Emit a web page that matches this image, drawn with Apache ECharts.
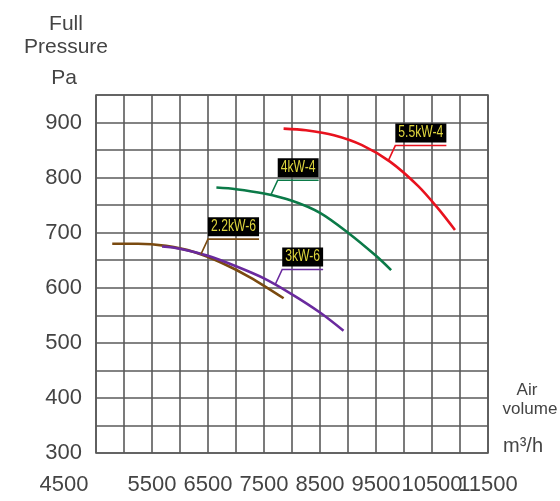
<!DOCTYPE html>
<html><head><meta charset="utf-8">
<script src="https://cdn.jsdelivr.net/npm/echarts@6/dist/echarts.min.js"></script>
<style>html,body{margin:0;padding:0;background:#fff}#c{width:560px;height:501px}</style>
</head><body><div id="c"></div>
<script>
// Axis ranges / ticks
const xMin = 4500, xMax = 11500, xStep = 500;
const yMin = 300, yMax = 950, yStep = 50;

// Curves (air volume m3/h -> full pressure Pa)
const brownX  = [4790, 5250, 5750, 6250, 6750, 7250, 7850];
const brownY  = [680, 680, 676, 665, 645, 619, 581];
const purpleX = [5680, 6000, 6500, 7000, 7500, 8000, 8500, 8920];
const purpleY = [675, 671, 658, 639, 617, 588, 555, 522];
const greenX  = [6650, 7000, 7500, 8000, 8500, 9000, 9500, 9770];
const greenY  = [782, 779, 771, 758, 736, 700, 658, 632];
const redX    = [7850, 8250, 8750, 9250, 9750, 10250, 10600, 10910];
const redY    = [889, 886, 877, 859, 829, 785, 745, 705];

// Curve labels and the point on the curve where each leader line starts
const curveNames   = ['2.2kW-6', '3kW-6', '4kW-4', '5.5kW-4'];
const labelAnchorX = [6375, 7700, 7620, 9720];
const labelAnchorY = [661, 606, 768, 831];

const curveColors = ['#7a4a10', '#6a2a9e', '#0b7a48', '#e8121e'];
const font = '"Liberation Sans", Arial, sans-serif';
const textColor = '#444';
const gridColor = '#5a5a5a';

function pairs(xs, ys) { return xs.map((x, i) => [x, ys[i]]); }

const chart = echarts.init(document.getElementById('c'), null, {renderer: 'canvas'});

const seriesData = [pairs(brownX, brownY), pairs(purpleX, purpleY), pairs(greenX, greenY), pairs(redX, redY)];

chart.setOption({
  animation: false,
  grid: {left: 96, right: 72, top: 95, bottom: 48, show: true, borderColor: gridColor, borderWidth: 1.6},
  xAxis: {
    type: 'value', min: xMin, max: xMax, interval: xStep,
    axisLine: {show: false}, axisTick: {show: false},
    splitLine: {show: true, lineStyle: {color: gridColor, width: 1.6}},
    axisLabel: {
      margin: 21, fontSize: 22, color: textColor, fontFamily: font,
      showMinLabel: true, showMaxLabel: true,
      formatter: v => (v % 1000 === 500) ? (v === xMin ? '{first|' + v + '}' : String(v)) : '',
      rich: {first: {fontSize: 22, color: textColor, fontFamily: font, padding: [0, 64, 0, 0]}}
    }
  },
  yAxis: {
    type: 'value', min: yMin, max: yMax, interval: yStep,
    axisLine: {show: false}, axisTick: {show: false},
    splitLine: {show: true, lineStyle: {color: gridColor, width: 1.6}},
    axisLabel: {
      margin: 14, fontSize: 22, color: textColor, fontFamily: font,
      showMaxLabel: true, showMinLabel: true,
      formatter: v => (v % 100 === 0) ? String(v) : ''
    }
  },
  series: seriesData.map((d, i) => ({
    type: 'line', name: curveNames[i], data: d, smooth: 0.3,
    showSymbol: false, symbol: 'none',
    lineStyle: {color: curveColors[i], width: 2.6}, z: 3 + i
  }))
});

// measure label text widths
const cv = document.createElement('canvas').getContext('2d');
const labelFontSize = 16, labelScale = 0.76;
cv.font = labelFontSize + 'px ' + font;

const graphics = [
  {type: 'text', x: 66, y: 24, style: {text: 'Full', fill: textColor, fontSize: 21, fontFamily: font, align: 'center', verticalAlign: 'middle'}},
  {type: 'text', x: 66, y: 47, style: {text: 'Pressure', fill: textColor, fontSize: 21, fontFamily: font, align: 'center', verticalAlign: 'middle'}},
  {type: 'text', x: 64, y: 78, style: {text: 'Pa', fill: textColor, fontSize: 21, fontFamily: font, align: 'center', verticalAlign: 'middle'}},
  {type: 'text', x: 527, y: 390, style: {text: 'Air', fill: textColor, fontSize: 17, fontFamily: font, align: 'center', verticalAlign: 'middle'}},
  {type: 'text', x: 530, y: 409, style: {text: 'volume', fill: textColor, fontSize: 17, fontFamily: font, align: 'center', verticalAlign: 'middle'}},
  {type: 'text', x: 523, y: 446, style: {text: 'm³/h', fill: textColor, fontSize: 20, fontFamily: font, align: 'center', verticalAlign: 'middle'}}
];

curveNames.forEach((name, i) => {
  const a = chart.convertToPixel({gridIndex: 0}, [labelAnchorX[i], labelAnchorY[i]]);
  const ex = a[0] + 7, ey = a[1] - 15;
  const tw = cv.measureText(name).width * labelScale;
  const bw = tw + 6;
  graphics.push({
    type: 'polyline', z: 100,
    shape: {points: [[a[0], a[1]], [ex, ey], [ex + bw, ey]]},
    style: {stroke: curveColors[i], lineWidth: 1.6, fill: null}
  });
  graphics.push({
    type: 'rect', z: 101,
    shape: {x: ex, y: ey - 22, width: bw, height: 19},
    style: {fill: '#000'}
  });
  graphics.push({
    type: 'text', z: 102, x: ex + bw / 2, y: ey - 12.5, scaleX: labelScale,
    style: {text: name, fill: '#ddd43e', fontSize: labelFontSize, fontFamily: font, align: 'center', verticalAlign: 'middle'}
  });
});

chart.setOption({graphic: graphics});
</script>
</body></html>
